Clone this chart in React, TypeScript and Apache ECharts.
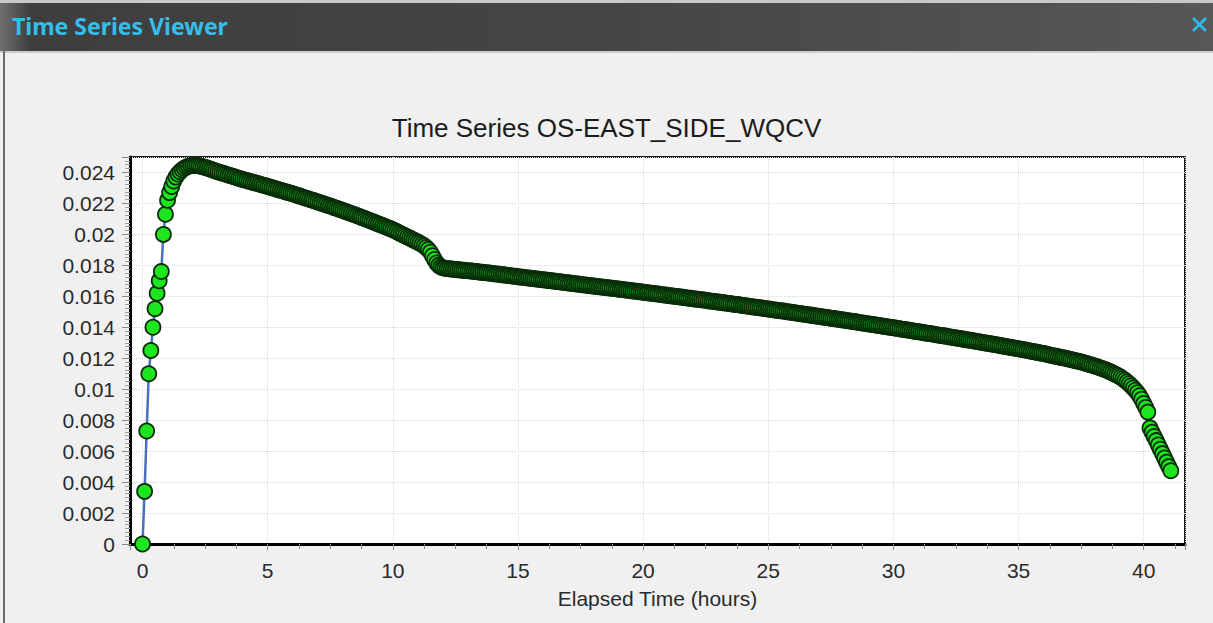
import { useEffect, useRef } from 'react';
import * as echarts from 'echarts';

// Flow at OS-EAST_SIDE_WQCV, one sample every 5 minutes from t = 0.
const SAMPLE_MINUTES = 5;

// Hours 0-1: rising limb up to the peak.
const risingLimb = [
  0, 0.0034, 0.0073, 0.011, 0.0125, 0.014, 0.0152, 0.0162, 0.017, 0.0176, 0.02, 0.0213,
  0.0222, 0.0227, 0.0231, 0.02345, 0.0237, 0.0239, 0.02405, 0.02417, 0.02427, 0.02435, 0.0244, 0.02443,
];

// Hours 2-11: recession down to the break near hour 12.
const upperRecession = [
  0.02445, 0.02446, 0.02445, 0.02443, 0.0244, 0.02437, 0.02433, 0.02429, 0.02424, 0.02419, 0.02414, 0.0241,
  0.02405, 0.02401, 0.02397, 0.02393, 0.02388, 0.02384, 0.0238, 0.02376, 0.02372, 0.02368, 0.02363, 0.02359,
  0.02355, 0.02351, 0.02348, 0.02344, 0.0234, 0.02336, 0.02333, 0.02329, 0.02325, 0.02321, 0.02318, 0.02314,
  0.0231, 0.02306, 0.02302, 0.02298, 0.02294, 0.0229, 0.02286, 0.02282, 0.02278, 0.02274, 0.0227, 0.02266,
  0.02262, 0.02258, 0.02253, 0.02249, 0.02245, 0.0224, 0.02236, 0.02232, 0.02227, 0.02223, 0.02219, 0.02214,
  0.0221, 0.02205, 0.02201, 0.02196, 0.02192, 0.02187, 0.02183, 0.02178, 0.02173, 0.02169, 0.02164, 0.0216,
  0.02155, 0.0215, 0.02145, 0.0214, 0.02135, 0.0213, 0.02125, 0.0212, 0.02115, 0.0211, 0.02105, 0.021,
  0.02095, 0.0209, 0.02084, 0.02079, 0.02073, 0.02068, 0.02063, 0.02057, 0.02052, 0.02046, 0.02041, 0.02036,
  0.0203, 0.02023, 0.02017, 0.0201, 0.02003, 0.01997, 0.0199, 0.01983, 0.01977, 0.0197, 0.01963, 0.01957,
  0.0195, 0.01943, 0.01935, 0.01926, 0.01915, 0.01902, 0.01885, 0.01862, 0.01838, 0.01815, 0.018, 0.0179,
];

// Hours 12-37: slow, nearly linear drawdown.
const lowerRecession = [
  0.01785, 0.01782, 0.0178, 0.01778, 0.01777, 0.01775, 0.01774, 0.01772, 0.01771, 0.01769, 0.01768, 0.01767,
  0.01766, 0.01764, 0.01763, 0.01761, 0.0176, 0.01758, 0.01756, 0.01755, 0.01753, 0.01752, 0.0175, 0.01749,
  0.01747, 0.01745, 0.01744, 0.01742, 0.0174, 0.01739, 0.01737, 0.01735, 0.01734, 0.01732, 0.0173, 0.01729,
  0.01727, 0.01725, 0.01724, 0.01722, 0.0172, 0.01719, 0.01717, 0.01715, 0.01714, 0.01712, 0.0171, 0.01709,
  0.01707, 0.01705, 0.01704, 0.01702, 0.017, 0.01699, 0.01697, 0.01695, 0.01694, 0.01692, 0.0169, 0.01689,
  0.01687, 0.01685, 0.01684, 0.01682, 0.0168, 0.01679, 0.01677, 0.01675, 0.01674, 0.01672, 0.0167, 0.01669,
  0.01667, 0.01665, 0.01664, 0.01662, 0.0166, 0.01659, 0.01657, 0.01655, 0.01654, 0.01652, 0.0165, 0.01649,
  0.01647, 0.01645, 0.01644, 0.01642, 0.0164, 0.01639, 0.01637, 0.01635, 0.01634, 0.01632, 0.0163, 0.01629,
  0.01627, 0.01625, 0.01623, 0.01622, 0.0162, 0.01618, 0.01616, 0.01615, 0.01613, 0.01611, 0.01609, 0.01608,
  0.01606, 0.01604, 0.01602, 0.01601, 0.01599, 0.01597, 0.01595, 0.01594, 0.01592, 0.0159, 0.01588, 0.01587,
  0.01585, 0.01583, 0.01581, 0.0158, 0.01578, 0.01576, 0.01574, 0.01572, 0.0157, 0.01569, 0.01567, 0.01565,
  0.01563, 0.01561, 0.01559, 0.01558, 0.01556, 0.01554, 0.01552, 0.0155, 0.01548, 0.01547, 0.01545, 0.01543,
  0.01541, 0.01539, 0.01537, 0.01535, 0.01533, 0.01531, 0.0153, 0.01528, 0.01526, 0.01524, 0.01522, 0.0152,
  0.01518, 0.01516, 0.01514, 0.01512, 0.0151, 0.01508, 0.01507, 0.01505, 0.01503, 0.01501, 0.01499, 0.01497,
  0.01495, 0.01493, 0.01491, 0.01489, 0.01487, 0.01485, 0.01483, 0.01481, 0.01479, 0.01477, 0.01475, 0.01473,
  0.01471, 0.01469, 0.01467, 0.01465, 0.01463, 0.01461, 0.01459, 0.01457, 0.01455, 0.01453, 0.01451, 0.01449,
  0.01447, 0.01445, 0.01443, 0.01441, 0.01439, 0.01437, 0.01435, 0.01432, 0.0143, 0.01428, 0.01426, 0.01424,
  0.01422, 0.0142, 0.01418, 0.01416, 0.01414, 0.01412, 0.0141, 0.01407, 0.01405, 0.01403, 0.01401, 0.01399,
  0.01397, 0.01395, 0.01393, 0.0139, 0.01388, 0.01386, 0.01384, 0.01382, 0.0138, 0.01377, 0.01375, 0.01373,
  0.01371, 0.01369, 0.01367, 0.01364, 0.01362, 0.0136, 0.01358, 0.01356, 0.01354, 0.01351, 0.01349, 0.01347,
  0.01345, 0.01343, 0.0134, 0.01338, 0.01336, 0.01334, 0.01331, 0.01329, 0.01327, 0.01325, 0.01322, 0.0132,
  0.01318, 0.01316, 0.01313, 0.01311, 0.01309, 0.01306, 0.01304, 0.01302, 0.01299, 0.01297, 0.01295, 0.01292,
  0.0129, 0.01288, 0.01285, 0.01283, 0.0128, 0.01278, 0.01276, 0.01273, 0.01271, 0.01268, 0.01266, 0.01263,
  0.01261, 0.01258, 0.01256, 0.01253, 0.01251, 0.01248, 0.01245, 0.01243, 0.0124, 0.01238, 0.01235, 0.01233,
  0.0123, 0.01227, 0.01224, 0.01221, 0.01218, 0.01215, 0.01213, 0.0121, 0.01207, 0.01204, 0.01201, 0.01198,
  0.01195, 0.01192, 0.01189, 0.01186, 0.01183, 0.01179, 0.01176, 0.01172, 0.01168, 0.01164, 0.0116, 0.01156,
];

// Hours 38-41: final drawdown of the pond.
const finalDrawdown = [
  0.01152, 0.01148, 0.01143, 0.01139, 0.01134, 0.01129, 0.01124, 0.01118, 0.01112, 0.01106, 0.01099, 0.01092,
  0.01085, 0.01077, 0.01068, 0.01058, 0.01047, 0.01035, 0.01022, 0.01008, 0.00993, 0.00977, 0.00958, 0.00935,
  0.00908, 0.00882, 0.00852, 0.0075, 0.00722, 0.00695, 0.00668, 0.0064, 0.00612, 0.00584, 0.00556, 0.00528,
  0.005, 0.00473,
];

const flowValues = [...risingLimb, ...upperRecession, ...lowerRecession, ...finalDrawdown];

const xTickLabels = [0, 5, 10, 15, 20, 25, 30, 35, 40];
const yTickStep = 0.002;

const CHART_TITLE = 'Time Series OS-EAST_SIDE_WQCV';
const X_AXIS_NAME = 'Elapsed Time (hours)';
const WINDOW_TITLE = 'Time Series Viewer';

const W = 1213;
const H = 623;
const FONT = '"Liberation Sans", Arial, sans-serif';

export default function App() {
  const ref = useRef<HTMLDivElement>(null);

  useEffect(() => {
    if (!ref.current) return;
    const chart = echarts.init(ref.current, undefined, { renderer: 'svg' });

    const points = flowValues.map((v, i) => [(i * SAMPLE_MINUTES) / 60, v]);

    chart.setOption({
      animation: false,
      backgroundColor: '#f0f0f0',
      textStyle: { fontFamily: FONT },
      title: {
        text: CHART_TITLE,
        left: 'center',
        top: 110,
        textStyle: { fontSize: 26, fontWeight: 'normal', color: '#1c1c1c', fontFamily: FONT },
      },
      graphic: [
        {
          type: 'rect',
          shape: { x: 0, y: 0, width: W, height: 51 },
          style: {
            fill: new echarts.graphic.LinearGradient(0, 0, 1, 0, [
              { offset: 0, color: '#707070' },
              { offset: 0.025, color: '#3e3e3e' },
              { offset: 0.5, color: '#454545' },
              { offset: 1, color: '#575757' },
            ]),
          },
          silent: true,
        },
        {
          type: 'rect',
          shape: { x: 0, y: 0, width: W, height: 3 },
          style: { fill: '#c9c9c9' },
          silent: true,
        },
        {
          type: 'rect',
          shape: { x: 0, y: 51, width: W, height: 2 },
          style: { fill: '#cdcdcd' },
          silent: true,
        },
        {
          type: 'rect',
          shape: { x: 3, y: 51, width: 2, height: H - 51 },
          style: { fill: '#6a6a6a' },
          silent: true,
        },
        {
          type: 'text',
          x: 12,
          y: 26,
          style: {
            text: WINDOW_TITLE,
            fill: '#36bde9',
            font: 'bold 23px "Noto Sans", "DejaVu Sans", sans-serif',
            verticalAlign: 'middle',
            align: 'left',
          },
          silent: true,
        },
        {
          type: 'line',
          shape: { x1: 1193, y1: 18, x2: 1206, y2: 31 },
          style: { stroke: '#2fb6e6', lineWidth: 3 },
          silent: true,
        },
        {
          type: 'line',
          shape: { x1: 1206, y1: 18, x2: 1193, y2: 31 },
          style: { stroke: '#2fb6e6', lineWidth: 3 },
          silent: true,
        },
      ],
      grid: {
        left: 130,
        right: 28,
        top: 157,
        bottom: 79,
        show: true,
        backgroundColor: '#ffffff',
        borderColor: '#1a1a1a',
        borderWidth: 2,
      },
      xAxis: {
        type: 'value',
        min: -0.5,
        max: 41.65,
        splitNumber: 8,
        name: X_AXIS_NAME,
        nameLocation: 'middle',
        nameGap: 44,
        nameTextStyle: { fontSize: 21, color: '#2a2a2a', fontFamily: FONT },
        axisLine: { show: true, onZero: false, lineStyle: { color: '#000', width: 3 } },
        axisTick: { show: true, length: 6, lineStyle: { color: '#8a8a8a', width: 1 } },
        minorTick: { show: true, splitNumber: 4, length: 5, lineStyle: { color: '#8a8a8a', width: 1 } },
        axisLabel: {
          fontSize: 21,
          color: '#2a2a2a',
          margin: 16,
          showMinLabel: false,
          showMaxLabel: false,
          formatter: (v: number) => (xTickLabels.includes(v) ? String(v) : ''),
        },
        splitLine: { show: true, lineStyle: { color: '#dadada', type: 'dotted', width: 1 } },
      },
      yAxis: {
        type: 'value',
        min: 0,
        max: 0.025,
        interval: yTickStep,
        axisLine: { show: true, onZero: false, lineStyle: { color: '#000', width: 3 } },
        axisTick: { show: true, length: 8, lineStyle: { color: '#8a8a8a', width: 1 } },
        minorTick: { show: true, splitNumber: 8, length: 5, lineStyle: { color: '#a0a0a0', width: 1 } },
        axisLabel: {
          fontSize: 21,
          color: '#2a2a2a',
          margin: 15,
          showMaxLabel: false,
          formatter: (v: number) => String(+v.toFixed(3)),
        },
        splitLine: { show: true, lineStyle: { color: '#dadada', type: 'dotted', width: 1 } },
      },
      series: [
        {
          type: 'line',
          data: points,
          showAllSymbol: true,
          symbol: 'circle',
          symbolSize: 15,
          silent: true,
          lineStyle: { color: '#4a70bd', width: 2.5 },
          itemStyle: { color: '#1ee61e', borderColor: '#092c09', borderWidth: 1.8 },
        },
      ],
    });

    return () => chart.dispose();
  }, []);

  return <div ref={ref} style={{ position: 'fixed', left: 0, top: 0, width: W, height: H }} />;
}
